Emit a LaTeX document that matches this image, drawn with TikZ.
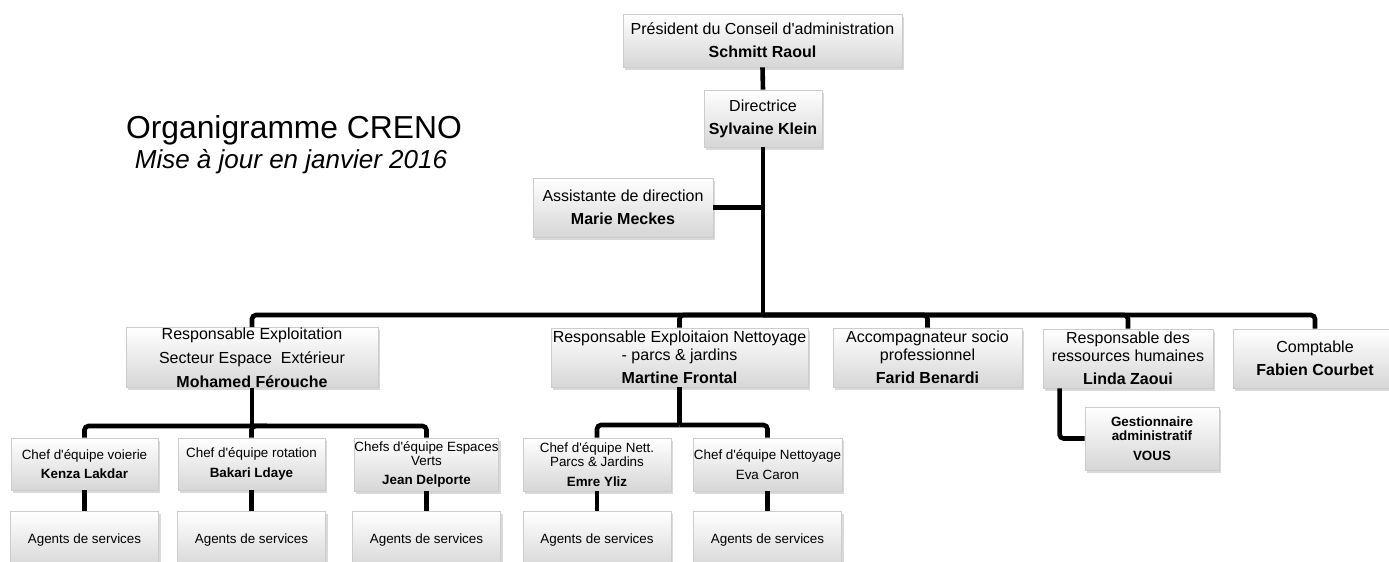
\documentclass[tikz,border=0pt]{standalone}
\usepackage{fontspec}
\setmainfont{Liberation Sans}[Ligatures=TeXOff]
\usetikzlibrary{shadows}

\tikzset{
  orgbox/.style={draw=gray!40, top color=white, bottom color=gray!32,
    drop shadow={opacity=0.3, shadow xshift=1pt, shadow yshift=-1.3pt},
    align=center, inner sep=0pt, font=\fontsize{8}{9}\selectfont},
  chefbox/.style={orgbox, font=\fontsize{6.7}{7.2}\selectfont},
  link/.style={line width=2.3pt, rounded corners=2pt},
}

\begin{document}
\begin{tikzpicture}[x=0.5pt, y=-0.5pt]
      \useasboundingbox (0,0) rectangle (1389,562);

      % Title
      \node[anchor=base, font=\fontsize{15.9}{19}\selectfont] (title) at (294,138) {Organigramme CRENO};
      \node[anchor=base, font=\fontsize{13}{15}\selectfont\itshape] (date) at (291,168) {Mise à jour en janvier 2016};

      % Top: direction
      \node[orgbox, minimum width=139.5pt, minimum height=26.5pt] (pres) at (762.5,40.5) {
        Président du Conseil d'administration\\[2.5pt]
        \textbf{Schmitt Raoul}
      };
      \node[orgbox, minimum width=59pt, minimum height=28.5pt] (dir) at (763,118.5) {
        Directrice\\[2.5pt]
        \textbf{Sylvaine Klein}
      };
      \node[orgbox, minimum width=90pt, minimum height=29.5pt] (asst) at (623,207.5) {
        Assistante de direction\\[2.5pt]
        \textbf{Marie Meckes}
      };

      % Middle row: responsables
      \node[orgbox, minimum width=126pt, minimum height=29.5pt] (ext) at (252,357.5) {
        Responsable Exploitation\\[3pt]
        Secteur Espace\ \ Extérieur\\[3pt]
        \textbf{Mohamed Férouche}
      };
      \node[orgbox, minimum width=128.5pt, minimum height=29.5pt] (nett) at (679.5,357.5) {
        Responsable Exploitaion Nettoyage\\
        - parcs \& jardins\\[2.5pt]
        \textbf{Martine Frontal}
      };
      \node[orgbox, minimum width=94.5pt, minimum height=29.5pt] (accomp) at (927.5,357.5) {
        Accompagnateur socio\\
        professionnel\\[2.5pt]
        \textbf{Farid Benardi}
      };
      \node[orgbox, minimum width=85pt, minimum height=29.5pt] (rh) at (1128,358.5) {
        Responsable des\\
        ressources humaines\\[2.5pt]
        \textbf{Linda Zaoui}
      };
      \node[orgbox, minimum width=82pt, minimum height=29.5pt] (compta) at (1315,358.5) {
        Comptable\\[2.5pt]
        \textbf{Fabien Courbet}
      };
      \node[chefbox, minimum width=67pt, minimum height=31.5pt] (gest) at (1152,438.5) {
        \textbf{Gestionnaire}\\
        \textbf{administratif}\\[2.5pt]
        \textbf{VOUS}
      };

      % Bottom: chefs d'equipe
      \node[chefbox, minimum width=73.5pt, minimum height=26pt] (voirie) at (84.5,464) {
        Chef d'équipe voierie\\[2.5pt]
        \textbf{Kenza Lakdar}
      };
      \node[chefbox, minimum width=73.5pt, minimum height=26pt] (rot) at (251.5,464) {
        Chef d'équipe rotation\\[2.5pt]
        \textbf{Bakari Ldaye}
      };
      \node[chefbox, minimum width=71.5pt, minimum height=26.5pt] (verts) at (426.5,464.5) {
        Chefs d'équipe Espaces\\
        Verts\\[2.5pt]
        \textbf{Jean Delporte}
      };
      \node[chefbox, minimum width=74pt, minimum height=26.5pt] (parcs) at (597,464.5) {
        Chef d'équipe Nett.\\
        Parcs \& Jardins\\[2.5pt]
        \textbf{Emre Yliz}
      };
      \node[chefbox, minimum width=74.5pt, minimum height=26.5pt] (netto) at (767.5,464.5) {
        Chef d'équipe Nettoyage\\[2.5pt]
        Eva Caron
      };

      % Agents de services under each chef
      \foreach \c/\n in {voirie/1, rot/2, verts/3, parcs/4, netto/5} {
        \node[chefbox, minimum width=74pt, minimum height=29pt] (ag\n) at (\c.south |- 0,540) {Agents de services};
        \draw[link] (\c.south) -- (ag\n.north);
      }

      % Connectors
      \coordinate (bus) at (763,315);
      \coordinate (extbus) at (252,426);
      \coordinate (nettbus) at (679.5,425);
      \draw[link] (pres.south) -- (dir.north);
      \draw[link] (dir.south) -- (bus);
      \draw[link] (asst.east) -- (asst.east -| bus);
      \foreach \n in {ext, nett, accomp, rh, compta}
        \draw[link] (bus) -| (\n.north);
      \draw[link] (ext.south) -- (extbus);
      \foreach \n in {voirie, rot, verts}
        \draw[link] (extbus) -| (\n.north);
      \draw[link] (nett.south) -- (nettbus);
      \foreach \n in {parcs, netto}
        \draw[link] (nettbus) -| (\n.north);
      \draw[link] ([xshift=8.5pt]rh.south west) |- (gest.west);
    \end{tikzpicture}
\end{document}
